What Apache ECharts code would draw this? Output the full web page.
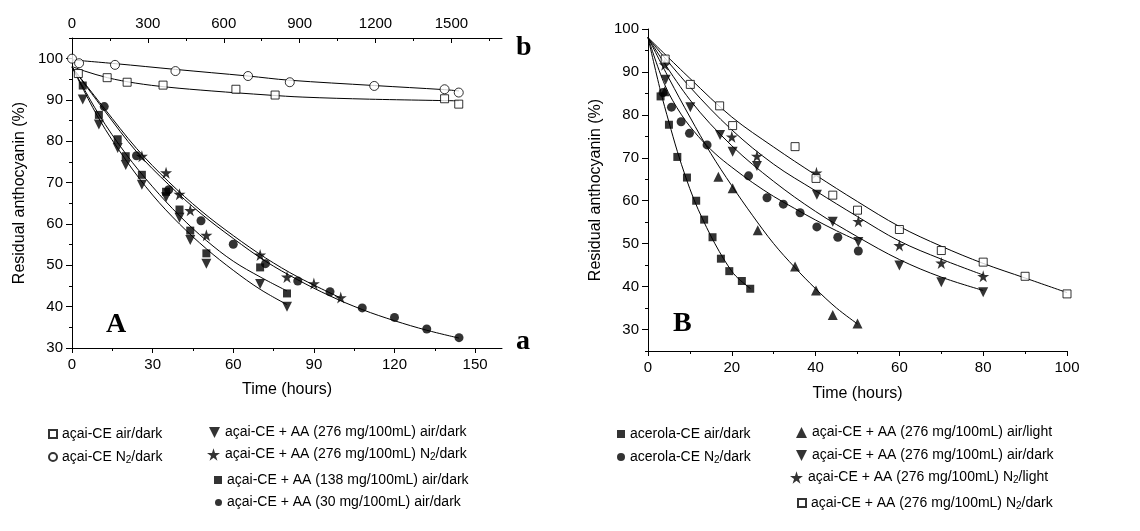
<!DOCTYPE html>
<html>
<head>
<meta charset="utf-8">
<script src="https://cdn.jsdelivr.net/npm/echarts@6/dist/echarts.min.js"></script>
<style>
  html, body { margin: 0; padding: 0; background: #fff; }
  #chart { width: 1140px; height: 531px; }
</style>
</head>
<body>
<div id="chart"></div>
<script>
// ---------- Panel A: storage time in hours (bottom axis) ----------
const aAA276AirT   = [4, 10, 17, 20, 26, 35, 40, 44, 50, 70, 80];
const aAA276AirV   = [90.1, 84.1, 78.4, 74.3, 69.5, 66.5, 61.5, 56.1, 50.4, 45.5, 40.0];
const aAA276N2T    = [26, 35, 40, 44, 50, 70, 80, 90, 100];
const aAA276N2V    = [76.4, 72.4, 67.2, 63.3, 57.3, 52.5, 47.2, 45.6, 42.2];
const aAA138T      = [4, 10, 17, 20, 26, 35, 40, 44, 50, 70, 80];
const aAA138V      = [93.5, 86.4, 80.5, 76.4, 71.9, 67.8, 63.5, 58.4, 52.9, 49.5, 43.2];
const aAA30T       = [12, 24, 36, 48, 60, 72, 84, 96, 108, 120, 132, 144];
const aAA30V       = [88.4, 76.5, 68.3, 60.8, 55.1, 50.4, 46.2, 43.6, 39.7, 37.4, 34.6, 32.5];

// fitted decay curves, panel A (hours)
const fitAA276AirT = [0, 10, 20, 30, 40, 50, 60, 70, 80];
const fitAA276AirV = [98, 85.5, 75.5, 67, 60, 54, 48.8, 44.2, 40.5];
const fitAA276N2T  = [0, 12, 24, 36, 48, 60, 72, 84, 100];
const fitAA276N2V  = [98, 88, 78.3, 70.2, 63.2, 57.2, 51.8, 47.2, 42.1];
const fitAA138T    = [0, 10, 20, 30, 40, 50, 60, 70, 80];
const fitAA138V    = [98, 86.5, 77, 69, 62, 56, 51, 47.2, 43.8];
const fitAA30T     = [0, 12, 24, 36, 48, 60, 72, 84, 96, 108, 120, 132, 144];
const fitAA30V     = [98, 87.5, 77.5, 69.5, 62.5, 56.5, 51, 46.5, 42.6, 39.3, 36.6, 34.3, 32.4];

// ---------- Panel A: long-term storage (top axis) ----------
const bAirT  = [25, 139, 218, 360, 648, 803, 1473, 1529];
const bAirV  = [96.4, 95.4, 94.3, 93.6, 92.6, 91.2, 90.3, 89.0];
const bN2T   = [0, 28, 170, 409, 696, 861, 1195, 1473, 1529];
const bN2V   = [100, 98.9, 98.5, 97.0, 95.8, 94.3, 93.4, 92.6, 91.8];
const fitBAirT = [0, 50, 140, 250, 380, 550, 775, 913, 1176, 1530];
const fitBAirV = [98.1, 97.0, 95.4, 94.1, 93.1, 92.2, 91.2, 90.7, 90.2, 89.8];
const fitBN2T  = [0, 170, 409, 696, 857, 1195, 1473, 1530];
const fitBN2V  = [99.7, 98.8, 97.4, 95.8, 94.8, 93.5, 92.5, 92.2];

// ---------- Panel B: storage time in hours ----------
const bAcerAirT = [3, 5, 7, 9.3, 11.5, 13.4, 15.4, 17.4, 19.4, 22.4, 24.4];
const bAcerAirV = [84.3, 77.7, 70.2, 65.4, 60.0, 55.6, 51.5, 46.5, 43.6, 41.3, 39.5];
const bAcerN2T  = [3.6, 5.6, 7.9, 9.9, 14.1, 24, 28.4, 32.3, 36.3, 40.3, 45.3, 50.2];
const bAcerN2V  = [85.2, 81.8, 78.4, 75.7, 73.0, 65.8, 60.7, 59.2, 57.2, 53.9, 51.5, 48.3];
const bAirLightT = [4, 16.8, 20.2, 26.2, 35.1, 40.1, 44.1, 50];
const bAirLightV = [85.5, 65.6, 62.9, 53.1, 44.7, 39.1, 33.4, 31.4];
const bAirDarkT  = [4.2, 10.1, 17.2, 20.2, 26, 40.3, 44.1, 50.2, 60, 70, 80];
const bAirDarkV  = [88.2, 81.8, 75.3, 71.4, 68.1, 61.4, 55.1, 50.4, 44.9, 41.0, 38.7];
const bN2LightT  = [4, 20, 26, 40.2, 50.2, 60, 70, 80];
const bN2LightV  = [91.7, 74.9, 70.4, 66.5, 55.2, 49.6, 45.5, 42.4];
const bN2DarkT   = [4.1, 10.1, 17.1, 20.2, 35.1, 40.1, 44.1, 50, 60, 70, 80, 90, 100];
const bN2DarkV   = [93.0, 87.1, 82.1, 77.5, 72.6, 65.2, 61.3, 57.8, 53.3, 48.4, 45.7, 42.4, 38.3];

// fitted decay curves, panel B
const fitAcerAirT = [0, 3, 5, 7, 9, 11, 13, 15, 17, 19, 21, 24.5];
const fitAcerAirV = [98, 85.5, 78.3, 71.5, 65.5, 60.2, 55.8, 51.8, 48.2, 45, 42.4, 39.5];
const fitAcerN2T  = [0, 4, 8, 12, 16, 20, 25, 30, 35, 40, 45, 50];
const fitAcerN2V  = [98, 87, 80, 75, 71, 67.8, 64.2, 61, 58.2, 55.5, 53, 50.7];
const fitAirLightT = [0, 5, 10, 15, 20, 25, 30, 35, 40, 45, 50];
const fitAirLightV = [98, 88.5, 79.5, 71, 63.5, 56.5, 50, 44.5, 39.5, 35, 31.3];
const fitAirDarkT  = [0, 10, 20, 30, 40, 50, 60, 70, 80];
const fitAirDarkV  = [98, 83.5, 72.8, 64.5, 57.5, 51.6, 46.3, 42.2, 39.1];
const fitN2LightT  = [0, 10, 20, 30, 40, 50, 60, 70, 80];
const fitN2LightV  = [98, 86.5, 76.5, 68.5, 62.3, 56.3, 50.6, 46.4, 42.7];
const fitN2DarkT   = [0, 10, 20, 30, 40, 50, 60, 70, 80, 90, 100];
const fitN2DarkV   = [98, 88.5, 79.5, 72.5, 66, 59.8, 54, 49.4, 45.4, 42, 38.6];

// axis tick positions
const aHourTicks  = [0, 30, 60, 90, 120, 150];
const aHourMinor  = [15, 45, 75, 105, 135];
const aLongTicks  = [0, 300, 600, 900, 1200, 1500];
const aLongMinor  = [150, 450, 750, 1050, 1350, 1650];
const aYTicks     = [30, 40, 50, 60, 70, 80, 90, 100];
const aYMinor     = [35, 45, 55, 65, 75, 85, 95, 105];
const bHourTicks  = [0, 20, 40, 60, 80, 100];
const bHourMinor  = [10, 30, 50, 70, 90];
const bYTicks     = [30, 40, 50, 60, 70, 80, 90, 100];
const bYMinor     = [25, 35, 45, 55, 65, 75, 85, 95];

const FONT = '"Liberation Sans", Arial, Helvetica, sans-serif';
const SERIF_BOLD = 'bold 28px "Liberation Serif", "Times New Roman", serif';
const STAR = 'path://M50,0 L61,35 L98,35 L68,57 L79,91 L50,70 L21,91 L32,57 L2,35 L39,35 Z';
const DOWN_TRIANGLE = 'path://M0,0 L10,0 L5,10 Z';
const zip = (xs, ys) => xs.map((x, i) => [x, ys[i]]);

const filled = { color: '#000' };
const hollow = { color: '#fff', borderColor: '#000', borderWidth: 1 };

function points(name, xs, ys, symbol, size, style, xi, yi, rotate) {
  return {
    name, type: 'scatter', data: zip(xs, ys), symbol, symbolSize: size,
    symbolRotate: rotate || 0, itemStyle: style, xAxisIndex: xi, yAxisIndex: yi,
    z: 5, silent: true
  };
}
function curve(name, xs, ys, xi, yi) {
  return {
    name, type: 'line', data: zip(xs, ys), smooth: 0.35, symbol: 'none',
    lineStyle: { color: '#000', width: 1 }, xAxisIndex: xi, yAxisIndex: yi,
    z: 3, silent: true
  };
}

const labelStyle = { color: '#000', fontFamily: FONT, fontSize: 15, formatter: v => String(v) };
const nameStyle = { color: '#000', fontFamily: FONT, fontSize: 16 };
const lineStyle = { show: true, onZero: false, lineStyle: { color: '#000', width: 1 } };

function mainAxis(extra) {
  return Object.assign({
    type: 'value', splitLine: { show: false }, axisLine: lineStyle
  }, extra);
}
function minorAxis(extra, ticks, inside) {
  return Object.assign({
    type: 'value', splitLine: { show: false },
    axisLine: { show: false, onZero: false },
    axisLabel: { show: false },
    axisTick: { show: true, inside: !!inside, length: 3, customValues: ticks,
                lineStyle: { color: '#000', width: 1 } }
  }, extra);
}
function majorTicks(ticks, inside, len) {
  return { show: true, inside: !!inside, length: len, customValues: ticks,
           lineStyle: { color: '#000', width: 1 } };
}

// legend helpers: series names carry a panel prefix, display text follows "|"
const legendText = name => name.split('|')[1].replace('N2', 'N{sub|2}');
function legendAt(name, left, center, size, icon) {
  return {
    data: [icon ? { name, icon } : name], left, top: center - size / 2,
    itemWidth: size, itemHeight: size,
    padding: 0, itemGap: 0, selectedMode: false, formatter: legendText,
    textStyle: {
      color: '#000', fontFamily: FONT, fontSize: 14, lineHeight: 16,
      rich: { sub: { fontSize: 10, lineHeight: 8, verticalAlign: 'bottom', fontFamily: FONT, color: '#000' } }
    }
  };
}

const N = {
  aAir:    'A|açai-CE air/dark',
  aN2:     'A|açai-CE N2/dark',
  a276Air: 'A|açai-CE + AA (276 mg/100mL) air/dark',
  a276N2:  'A|açai-CE + AA (276 mg/100mL) N2/dark',
  a138:    'A|açai-CE + AA (138 mg/100mL) air/dark',
  a30:     'A|açai-CE + AA (30 mg/100mL) air/dark',
  bAcAir:  'B|acerola-CE air/dark',
  bAcN2:   'B|acerola-CE N2/dark',
  bLight:  'B|açai-CE + AA (276 mg/100mL) air/light',
  bDark:   'B|açai-CE + AA (276 mg/100mL) air/dark',
  bN2L:    'B|açai-CE + AA (276 mg/100mL) N2/light',
  bN2D:    'B|açai-CE + AA (276 mg/100mL) N2/dark'
};

const option = {
  animation: false,
  backgroundColor: '#fff',
  grid: [
    { left: 72, top: 38, width: 430, height: 310 },
    { left: 648, top: 29, width: 419, height: 322 }
  ],
  xAxis: [
    // 0: panel A, hours
    mainAxis({ gridIndex: 0, position: 'bottom', min: 0, max: 160,
      axisTick: majorTicks(aHourTicks, false, 5),
      axisLabel: Object.assign({ customValues: aHourTicks, margin: 9 }, labelStyle),
      name: 'Time (hours)', nameLocation: 'middle', nameGap: 34, nameTextStyle: nameStyle }),
    // 1: panel A, long-term scale on top
    mainAxis({ gridIndex: 0, position: 'top', min: 0, max: 1700,
      axisTick: majorTicks(aLongTicks, true, 5),
      axisLabel: Object.assign({ customValues: aLongTicks, margin: 7 }, labelStyle) }),
    // 2, 3: minor ticks for panel A
    minorAxis({ gridIndex: 0, position: 'bottom', min: 0, max: 160 }, aHourMinor, false),
    minorAxis({ gridIndex: 0, position: 'top', min: 0, max: 1700 }, aLongMinor, true),
    // 4: panel B, hours
    mainAxis({ gridIndex: 1, position: 'bottom', min: 0, max: 100,
      axisTick: majorTicks(bHourTicks, false, 5),
      axisLabel: Object.assign({ customValues: bHourTicks, margin: 9 }, labelStyle),
      name: 'Time (hours)', nameLocation: 'middle', nameGap: 35, nameTextStyle: nameStyle }),
    // 5: minor ticks for panel B
    minorAxis({ gridIndex: 1, position: 'bottom', min: 0, max: 100 }, bHourMinor, false)
  ],
  yAxis: [
    mainAxis({ gridIndex: 0, position: 'left', min: 30, max: 105,
      axisTick: majorTicks(aYTicks, false, 6),
      axisLabel: Object.assign({ customValues: aYTicks, margin: 9 }, labelStyle),
      name: 'Residual anthocyanin (%)', nameLocation: 'middle', nameGap: 44, nameTextStyle: nameStyle }),
    minorAxis({ gridIndex: 0, position: 'left', min: 30, max: 105 }, aYMinor, false),
    mainAxis({ gridIndex: 1, position: 'left', min: 25, max: 100,
      axisTick: majorTicks(bYTicks, false, 6),
      axisLabel: Object.assign({ customValues: bYTicks, margin: 9 }, labelStyle),
      name: 'Residual anthocyanin (%)', nameLocation: 'middle', nameGap: 44, nameTextStyle: nameStyle }),
    minorAxis({ gridIndex: 1, position: 'left', min: 25, max: 100 }, bYMinor, false)
  ],
  legend: [
    legendAt(N.aAir, 48, 430, 8),
    legendAt(N.aN2, 48, 453, 8),
    legendAt(N.a276Air, 209, 430, 11, DOWN_TRIANGLE),
    legendAt(N.a276N2, 207, 453, 13),
    legendAt(N.a138, 214, 476, 8),
    legendAt(N.a30, 215, 498, 7),
    legendAt(N.bAcAir, 617, 430, 8),
    legendAt(N.bAcN2, 617, 453, 8),
    legendAt(N.bLight, 796, 430, 11),
    legendAt(N.bDark, 796, 453, 11, DOWN_TRIANGLE),
    legendAt(N.bN2L, 790, 476, 13),
    legendAt(N.bN2D, 797, 499, 8)
  ],
  graphic: [
    { type: 'text', left: 106, top: 311, style: { text: 'A', font: SERIF_BOLD, fill: '#000' } },
    { type: 'text', left: 516, top: 328, style: { text: 'a', font: SERIF_BOLD, fill: '#000' } },
    { type: 'text', left: 516, top: 34, style: { text: 'b', font: SERIF_BOLD, fill: '#000' } },
    { type: 'text', left: 673, top: 310, style: { text: 'B', font: SERIF_BOLD, fill: '#000' } }
  ],
  series: [
    // panel A, fitted curves
    curve('fit a276air', fitAA276AirT, fitAA276AirV, 0, 0),
    curve('fit a276n2', fitAA276N2T, fitAA276N2V, 0, 0),
    curve('fit a138', fitAA138T, fitAA138V, 0, 0),
    curve('fit a30', fitAA30T, fitAA30V, 0, 0),
    curve('fit bair', fitBAirT, fitBAirV, 1, 0),
    curve('fit bn2', fitBN2T, fitBN2V, 1, 0),
    // panel A, measurements
    points(N.aAir, bAirT, bAirV, 'rect', 8, hollow, 1, 0),
    points(N.aN2, bN2T, bN2V, 'circle', 9, hollow, 1, 0),
    points(N.a276Air, aAA276AirT, aAA276AirV, 'triangle', 10, filled, 0, 0, 180),
    points(N.a276N2, aAA276N2T, aAA276N2V, STAR, 12, filled, 0, 0),
    points(N.a138, aAA138T, aAA138V, 'rect', 8, filled, 0, 0),
    points(N.a30, aAA30T, aAA30V, 'circle', 9, filled, 0, 0),
    // panel B, fitted curves
    curve('fit acerair', fitAcerAirT, fitAcerAirV, 4, 2),
    curve('fit acern2', fitAcerN2T, fitAcerN2V, 4, 2),
    curve('fit airlight', fitAirLightT, fitAirLightV, 4, 2),
    curve('fit airdark', fitAirDarkT, fitAirDarkV, 4, 2),
    curve('fit n2light', fitN2LightT, fitN2LightV, 4, 2),
    curve('fit n2dark', fitN2DarkT, fitN2DarkV, 4, 2),
    // panel B, measurements
    points(N.bAcAir, bAcerAirT, bAcerAirV, 'rect', 8, filled, 4, 2),
    points(N.bAcN2, bAcerN2T, bAcerN2V, 'circle', 9, filled, 4, 2),
    points(N.bLight, bAirLightT, bAirLightV, 'triangle', 10, filled, 4, 2),
    points(N.bDark, bAirDarkT, bAirDarkV, 'triangle', 10, filled, 4, 2, 180),
    points(N.bN2L, bN2LightT, bN2LightV, STAR, 12, filled, 4, 2),
    points(N.bN2D, bN2DarkT, bN2DarkV, 'rect', 8, hollow, 4, 2)
  ]
};

const chart = echarts.init(document.getElementById('chart'), null, { renderer: 'canvas' });
chart.setOption(option);
</script>
</body>
</html>
